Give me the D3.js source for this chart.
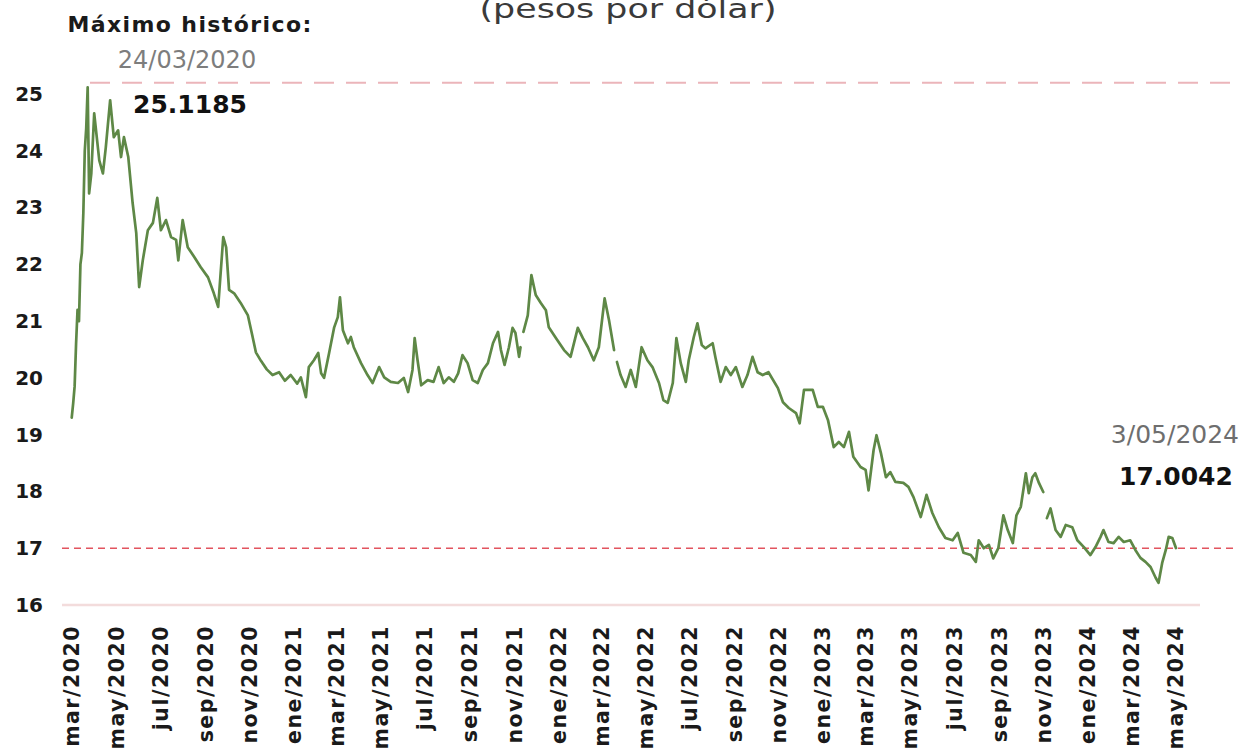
<!DOCTYPE html>
<html><head><meta charset="utf-8">
<script src="https://cdn.jsdelivr.net/npm/d3@7"></script>
<style>body{margin:0;background:#fff;} svg{display:block;}</style>
</head><body><svg id="c" width="1249" height="756"></svg>
<script>
// ---- data ----
const startDate = "2020-03-01";           // day 0 of the series
const dayOffsets = [
  1,3,5,7,9,11,13,15,17,19,
  21,23,25,28,32,39,44,48,54,59,
  65,69,73,79,85,90,94,99,106,113,
  119,124,131,138,145,148,154,161,170,179,
  189,197,203,210,214,218,225,234,244,250,
  255,262,270,278,287,295,303,312,317,324,
  328,335,341,345,349,356,363,368,371,375,
  382,386,390,400,409,416,425,432,441,451,
  459,465,471,474,478,483,492,500,507,514,
  521,528,534,540,547,554,561,568,575,582,
  589,593,598,604,609,613,618,620,621,624,
  630,635,641,648,655,659,669,680,689,699,
  706,713,721,728,736,742,749,750,753,758,
  765,772,779,787,795,802,811,817,823,830,
  835,841,848,852,859,864,870,875,885,889,
  896,903,910,917,926,933,940,947,954,962,
  975,982,990,1000,1005,1011,1023,1030,1037,1044,
  1052,1059,1066,1073,1079,1089,1096,1100,1107,1111,
  1117,1124,1130,1137,1148,1155,1162,1172,1180,1188,
  1197,1206,1216,1223,1231,1241,1248,1252,1259,1266,
  1272,1279,1286,1292,1299,1304,1310,1317,1321,1326,
  1330,1335,1341,1343,1346,1351,1358,1365,1372,1381,
  1388,1397,1406,1413,1420,1424,1431,1438,1445,1452,
  1461,1468,1475,1482,1489,1496,1500,1505,1510,1514,
  1519,1524
];
const pesosPerDollar = [
  19.3,19.55,19.85,20.6,21.2,21.0,22.0,22.2,22.9,24.0,
  24.4,25.1185,23.25,23.6,24.66,23.83,23.6,24.06,24.89,24.24,
  24.36,23.89,24.24,23.89,23.08,22.55,21.6,22.07,22.6,22.73,
  23.17,22.6,22.78,22.48,22.43,22.07,22.78,22.3,22.13,21.95,
  21.77,21.49,21.25,22.48,22.3,21.55,21.49,21.32,21.1,20.75,
  20.45,20.3,20.15,20.05,20.1,19.95,20.05,19.9,20.01,19.66,
  20.19,20.31,20.44,20.08,20.0,20.44,20.89,21.07,21.42,20.84,
  20.61,20.72,20.54,20.26,20.05,19.91,20.19,20.01,19.93,19.91,
  20.0,19.75,20.14,20.7,20.31,19.87,19.96,19.93,20.19,19.91,
  20.01,19.93,20.08,20.4,20.26,19.96,19.91,20.14,20.26,20.61,
  20.81,20.49,20.23,20.54,20.88,20.79,20.37,20.54,null,20.81,
  21.1,21.81,21.46,21.32,21.19,20.89,20.7,20.49,20.37,20.88,
  20.7,20.54,20.31,20.54,21.4,21.02,20.49,null,20.28,20.05,
  19.84,20.14,19.84,20.54,20.31,20.19,19.91,19.61,19.56,19.91,
  20.7,20.26,19.93,20.31,20.72,20.96,20.58,20.52,20.61,20.35,
  19.93,20.19,20.05,20.19,19.84,20.05,20.37,20.1,20.05,20.1,
  19.82,19.57,19.47,19.38,19.2,19.79,19.79,19.49,19.49,19.26,
  18.78,18.87,18.78,19.05,18.61,18.43,18.38,18.02,18.73,18.99,
  18.68,18.25,18.34,18.17,18.15,18.08,17.9,17.55,17.94,17.62,
  17.37,17.18,17.14,17.27,16.92,16.88,16.76,17.14,17.0,17.06,
  16.82,17.0,17.58,17.32,17.09,17.58,17.73,18.32,17.97,18.25,
  18.32,18.15,17.99,null,17.53,17.7,17.32,17.2,17.41,17.37,
  17.14,17.02,16.88,17.02,17.2,17.32,17.11,17.09,17.2,17.11,
  17.14,16.97,16.83,16.76,16.67,16.48,16.39,16.74,16.97,17.2,
  17.18,17.0042
];
const xTickLabels = ["mar/2020","may/2020","jul/2020","sep/2020","nov/2020",
  "ene/2021","mar/2021","may/2021","jul/2021","sep/2021","nov/2021",
  "ene/2022","mar/2022","may/2022","jul/2022","sep/2022","nov/2022",
  "ene/2023","mar/2023","may/2023","jul/2023","sep/2023","nov/2023",
  "ene/2024","mar/2024","may/2024"];
const yTicks = [16,17,18,19,20,21,22,23,24,25];
const titleText = "(pesos por dólar)";
const maxLabel = ["Máximo histórico:", "24/03/2020", "25.1185"];
const lastLabel = ["3/05/2024", "17.0042"];
const refTop = 25.2, refBottom = 17.0;

// ---- build ----
const parse = d3.timeParse("%Y-%m-%d");
const t0 = parse(startDate);
const series = dayOffsets.map((d, i) => ({date: d3.timeDay.offset(t0, d), v: pesosPerDollar[i]}));
const tickDates = xTickLabels.map((_, i) => d3.timeMonth.offset(t0, 2 * i));

const svg = d3.select("#c");
const x = d3.scaleTime().domain([tickDates[0], tickDates[tickDates.length - 1]]).range([71, 1174.5]);
const y = d3.scaleLinear().domain([16, 25]).range([605, 94]);
const FONT = "'DejaVu Sans', sans-serif";

svg.append("rect").attr("width", 1249).attr("height", 756).attr("fill", "#fff");

// baseline
svg.append("line").attr("x1", 62).attr("x2", 1200).attr("y1", y(16)).attr("y2", y(16))
  .attr("stroke", "#f3dcdc").attr("stroke-width", 2.5);

// reference lines
svg.append("line").attr("x1", 90).attr("x2", 1232).attr("y1", y(refTop)).attr("y2", y(refTop))
  .attr("stroke", "#ebb5ba").attr("stroke-width", 2).attr("stroke-dasharray", "20 12");
svg.append("line").attr("x1", 62).attr("x2", 1236).attr("y1", y(refBottom)).attr("y2", y(refBottom))
  .attr("stroke", "#e2545f").attr("stroke-width", 1.6).attr("stroke-dasharray", "7 5");

// series line
const line = d3.line().defined(d => d.v != null).x(d => x(d.date)).y(d => y(d.v));
svg.append("path").datum(series).attr("d", line)
  .attr("fill", "none").attr("stroke", "#5e8846").attr("stroke-width", 2.7)
  .attr("stroke-linejoin", "round").attr("stroke-linecap", "round");

// y axis
const gy = svg.append("g").attr("transform", "translate(43,0)")
  .call(d3.axisLeft(y).tickValues(yTicks).tickSize(0).tickPadding(0).tickFormat(d3.format("d")));
gy.select(".domain").remove();
gy.selectAll("text").attr("font-family", FONT).attr("font-weight", "bold")
  .attr("font-size", 20).attr("fill", "#1a1a1a");

// x axis
const gx = svg.append("g").attr("transform", "translate(0,625)")
  .call(d3.axisBottom(x).tickValues(tickDates).tickSize(0).tickFormat((d, i) => xTickLabels[i]));
gx.select(".domain").remove();
gx.selectAll("text").attr("transform", "rotate(-90)").attr("x", 0).attr("y", 0).attr("dy", "0.38em")
  .style("text-anchor", "end").attr("font-family", FONT).attr("font-weight", "bold")
  .attr("font-size", 20.5).attr("letter-spacing", 1.5).attr("fill", "#1a1a1a");

// title (cut at top, as in the reference)
svg.append("text").attr("x", 628).attr("y", 18).attr("text-anchor", "middle")
  .attr("font-family", FONT).attr("font-size", 27).attr("fill", "#3a3a3a")
  .attr("textLength", 297).attr("lengthAdjust", "spacingAndGlyphs").text(titleText);

// max annotation
const ax = 190;
svg.append("text").attr("x", ax).attr("y", 32).attr("text-anchor", "middle")
  .attr("font-family", FONT).attr("font-weight", "bold").attr("font-size", 22)
  .attr("letter-spacing", 1.4).attr("fill", "#1a1a1a").text(maxLabel[0]);
svg.append("text").attr("x", ax - 3).attr("y", 68).attr("text-anchor", "middle")
  .attr("font-family", FONT).attr("font-size", 24).attr("fill", "#7d7d7d").text(maxLabel[1]);
svg.append("text").attr("x", ax).attr("y", 113).attr("text-anchor", "middle")
  .attr("font-family", FONT).attr("font-weight", "bold").attr("font-size", 25)
  .attr("fill", "#111").text(maxLabel[2]);

// last value annotation
const last = series[series.length - 1];
const lx = x(last.date);
svg.append("text").attr("x", lx - 1).attr("y", 443).attr("text-anchor", "middle")
  .attr("font-family", FONT).attr("font-size", 25).attr("fill", "#6e6e6e").text(lastLabel[0]);
svg.append("text").attr("x", lx).attr("y", 485).attr("text-anchor", "middle")
  .attr("font-family", FONT).attr("font-weight", "bold").attr("font-size", 25)
  .attr("fill", "#111").text(lastLabel[1]);
</script></body></html>
